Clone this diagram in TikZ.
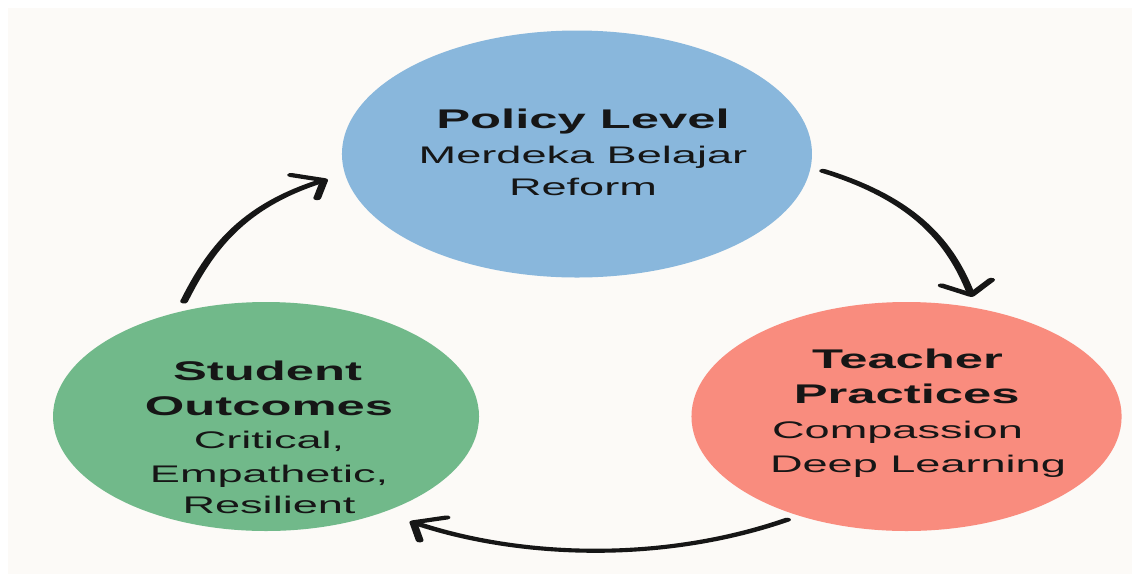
\documentclass[tikz,border=0pt]{standalone}
\usepackage{fontspec}
\setmainfont{Liberation Sans}
\usetikzlibrary{arrows.meta,shapes.geometric}

\definecolor{bgc}{HTML}{FCFAF7}
\definecolor{bluec}{HTML}{89B7DC}
\definecolor{redc}{HTML}{F98C7E}
\definecolor{greenc}{HTML}{71B98A}
\definecolor{inkc}{HTML}{161616}

\begin{document}
\begin{tikzpicture}[x=1pt,y=1pt,
  blob/.style={ellipse, inner sep=0pt, outer sep=0pt},
  ttl/.style={anchor=base, inner sep=0pt, font=\fontsize{27}{34}\selectfont\bfseries, text=inkc},
  bdy/.style={anchor=base, inner sep=0pt, font=\fontsize{24}{34}\selectfont, text=inkc},
  flow/.style={line width=4.1pt, draw=inkc, line cap=round,
    -{Straight Barb[length=12.5pt,width=27pt,round]}}]
\useasboundingbox (0,0) rectangle (1132,-574);
\fill[white] (0,0) rectangle (1132,-574);
\fill[bgc] (8,-8) rectangle (1132,-574);
\begin{scope}[transform canvas={xscale=1.88}]
  % circles
  \node[blob, fill=bluec, minimum width=250pt, minimum height=247pt] (policy) at (306.9,-154) {};
  \node[blob, fill=redc, minimum width=228.8pt, minimum height=229pt] (teacher) at (482.2,-416.5) {};
  \node[blob, fill=greenc, minimum width=226.6pt, minimum height=229pt] (student) at (141.5,-416.5) {};
  % policy text
  \node[ttl] (p1) at (310.1,-128) {Policy Level};
  \node[bdy] (p2) at (310.1,-163) {Merdeka Belajar};
  \node[bdy] (p3) at (310.1,-195) {Reform};
  % teacher text
  \node[ttl] (t1) at (482.7,-368) {Teacher};
  \node[ttl] (t2) at (482.3,-403) {Practices};
  \node[bdy] (t3) at (477.4,-438) {Compassion};
  \node[bdy] (t4) at (488.3,-472) {Deep Learning};
  % student text
  \node[ttl] (s1) at (142.3,-380) {Student};
  \node[ttl] (s2) at (143.1,-415) {Outcomes};
  \node[bdy] (s3) at (143.1,-448) {Critical,};
  \node[bdy] (s4) at (143.1,-482) {Empathetic,};
  \node[bdy] (s5) at (143.1,-513) {Resilient};
  % cycle arrows
  \draw[flow, shorten <=7.6pt, shorten >=11.6pt] (policy.-6.06) to[out=-30, in=102] (teacher.71.4);
  \draw[flow, shorten <=7.5pt, shorten >=17pt] (teacher.240.8) to[out=213, in=-32] (student.303.6);
  \draw[flow, shorten <=11pt, shorten >=10.8pt] (student.114.1) to[out=75, in=211] (policy.189.3);
\end{scope}
\end{tikzpicture}
\end{document}
